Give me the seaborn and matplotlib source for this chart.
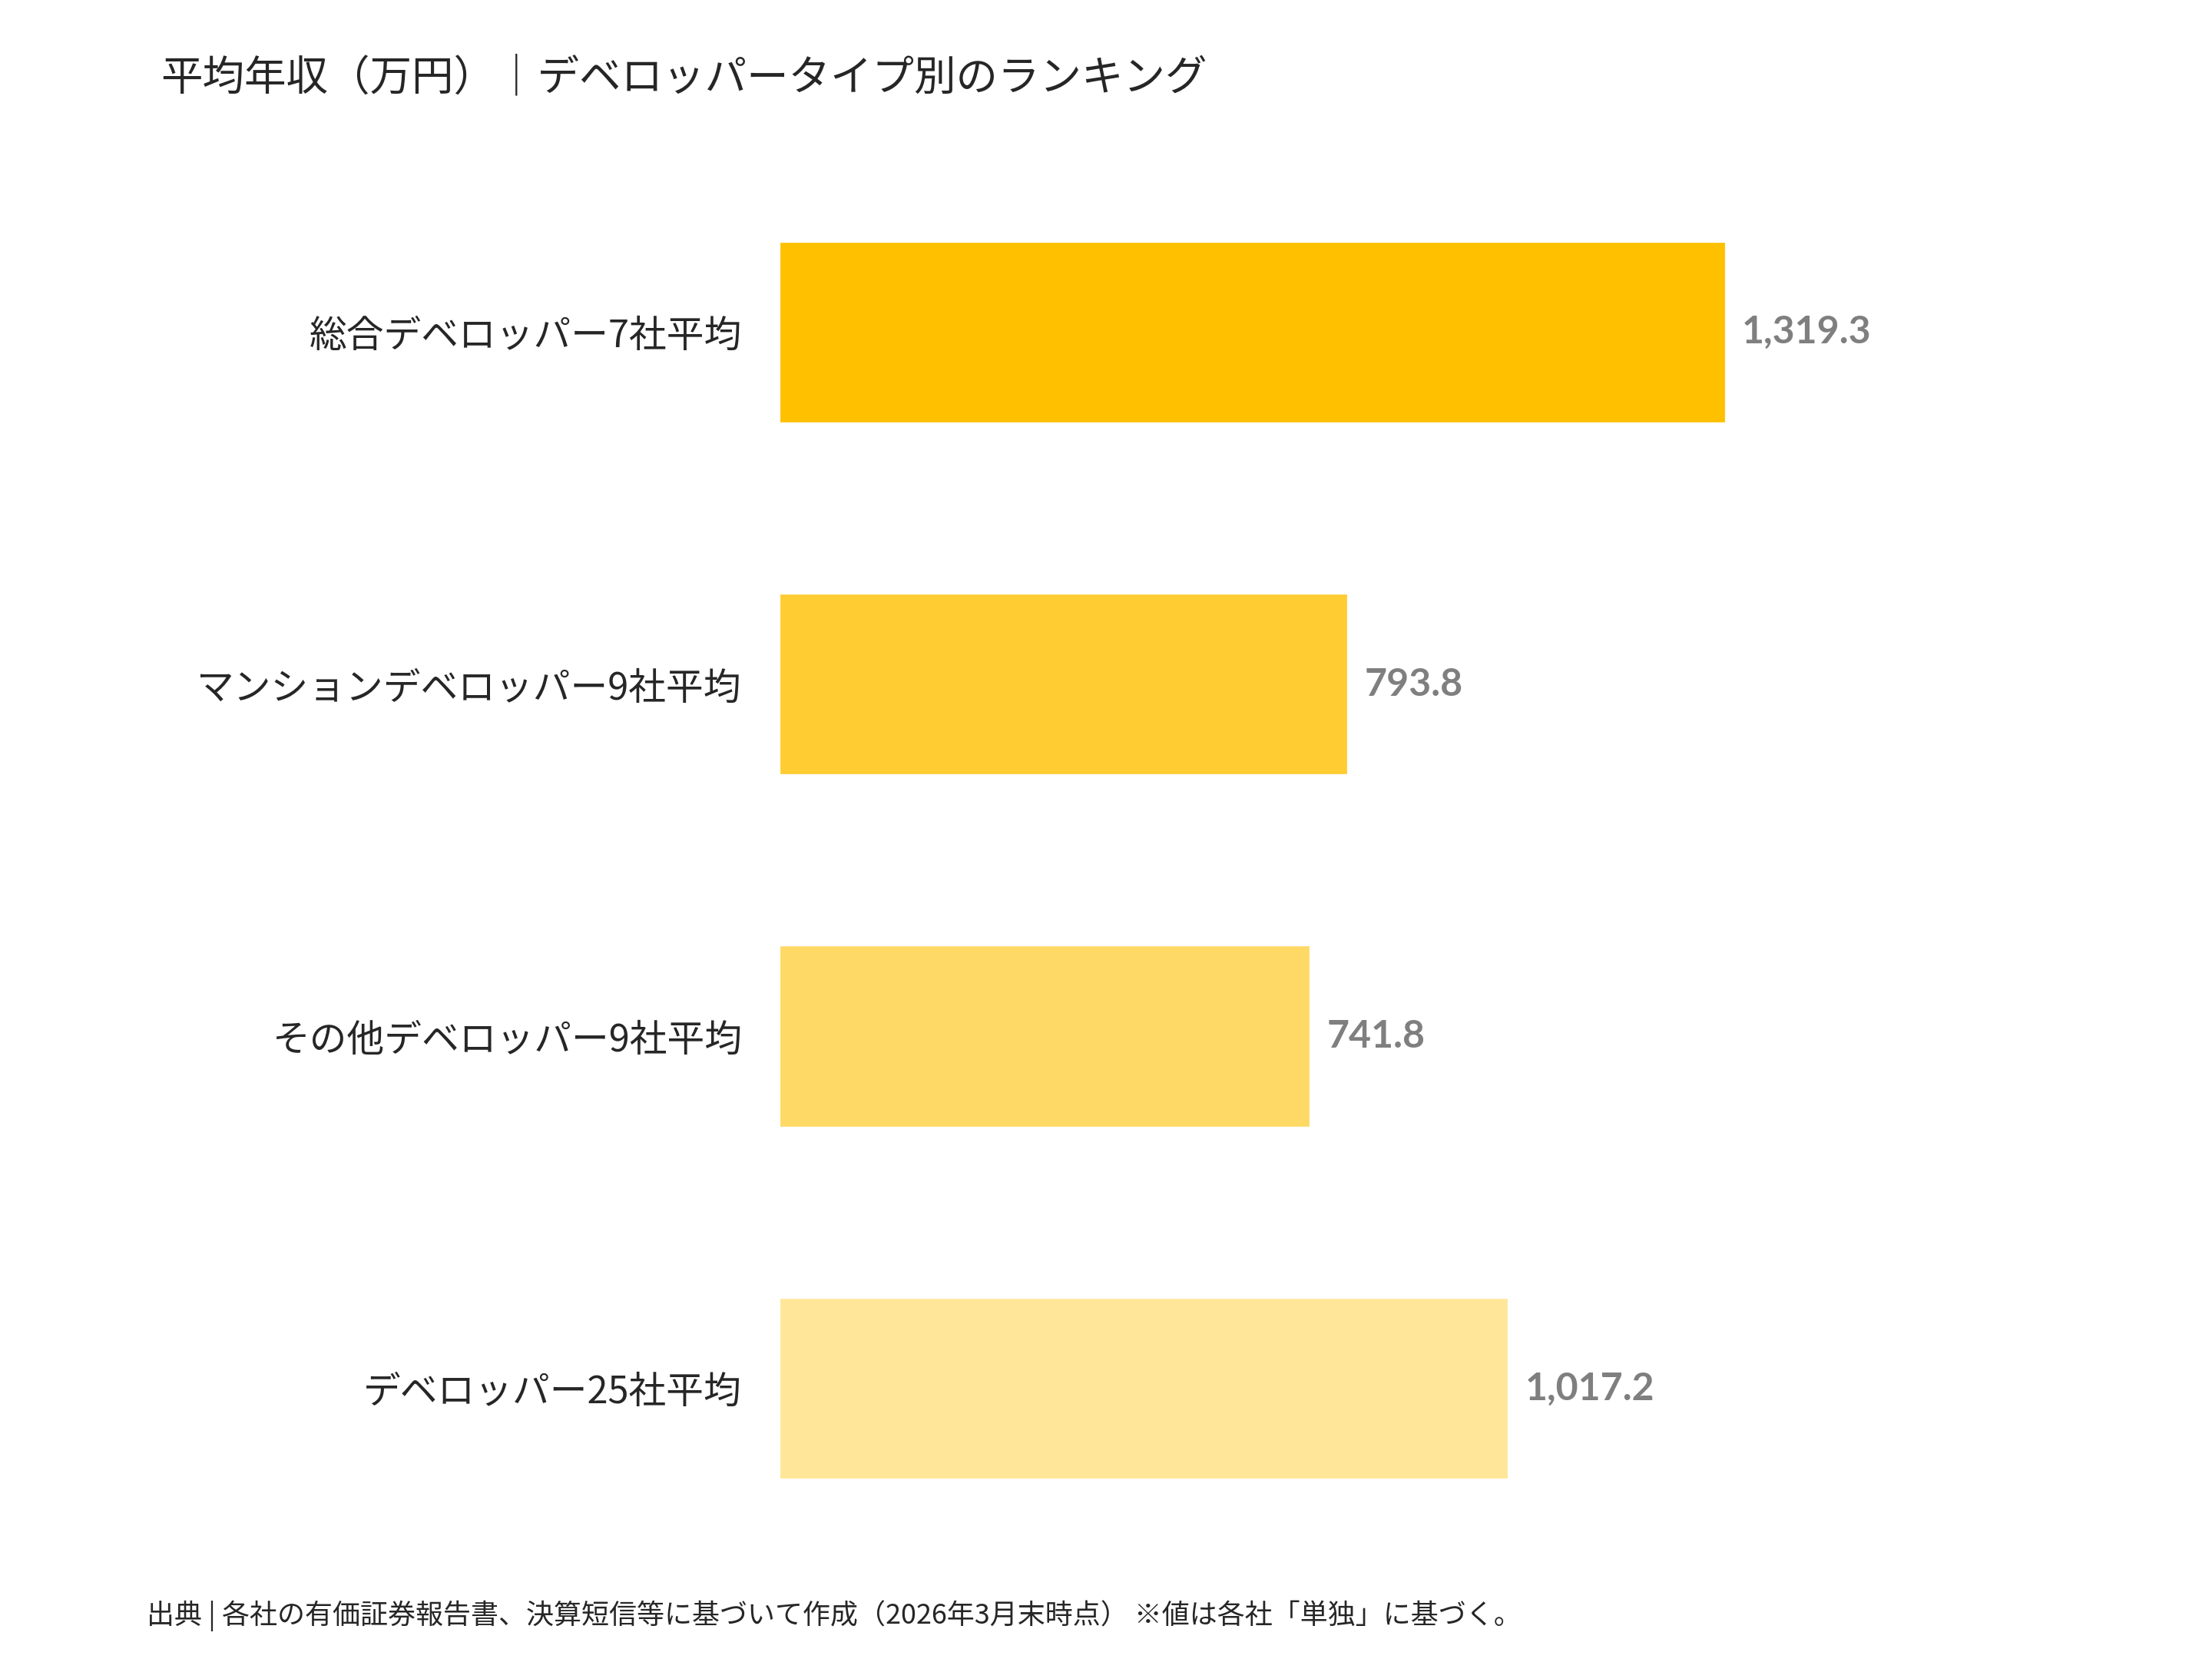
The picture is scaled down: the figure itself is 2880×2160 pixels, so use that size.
import matplotlib
matplotlib.use("Agg")
import matplotlib.pyplot as plt
import pandas as pd
import seaborn as sns

# ── data ──────────────────────────────────────────────────────────────────────
categories = [
    "総合デベロッパー7社平均",
    "マンションデベロッパー9社平均",
    "その他デベロッパー9社平均",
    "デベロッパー25社平均",
]
salary = [1319.3, 793.8, 741.8, 1017.2]
bar_colors = ["#FFC000", "#FFCC32", "#FED966", "#FFE699"]

TITLE = "平均年収（万円）｜デベロッパータイプ別のランキング"
SOURCE = "出典 | 各社の有価証券報告書、決算短信等に基づいて作成（2026年3月末時点） ※値は各社「単独」に基づく。"

TEXT_COLOR = "#262626"
VALUE_COLOR = "#7F7F7F"

sns.set_theme(style="white")
plt.rcParams["font.family"] = ["Noto Sans CJK JP", "DejaVu Sans"]

df = pd.DataFrame({"category": categories, "salary": salary})

fig = plt.figure(figsize=(9.6, 7.2), dpi=300)
ax = fig.add_axes([0.352, 0.0568, 0.5845, 0.849])

sns.barplot(
    data=df, y="category", x="salary", hue="category",
    palette=dict(zip(categories, bar_colors)), orient="h",
    width=0.52, saturation=1, legend=False, ax=ax,
)

for container in ax.containers:
    ax.bar_label(
        container, labels=[f"{v:,.1f}" for v in container.datavalues],
        padding=4.9, fontsize=12, fontweight="bold", color=VALUE_COLOR,
        family=["Lato", "DejaVu Sans"],
    )

ax.set_xlim(0, 1800)
ax.set_ylim(3.5, -0.5)
ax.set_xlabel("")
ax.set_ylabel("")
ax.set_xticks([])
ax.tick_params(axis="y", length=0, pad=11.5, labelsize=11.7, labelcolor=TEXT_COLOR)
sns.despine(ax=ax, left=True, bottom=True)

fig.text(0.0725, 0.953, TITLE, fontsize=13.1, color=TEXT_COLOR,
         ha="left", va="center")
fig.text(0.0662, 0.026, SOURCE, fontsize=8.65, color=TEXT_COLOR,
         ha="left", va="center")

fig.savefig("out.png", dpi=300, facecolor="white")
